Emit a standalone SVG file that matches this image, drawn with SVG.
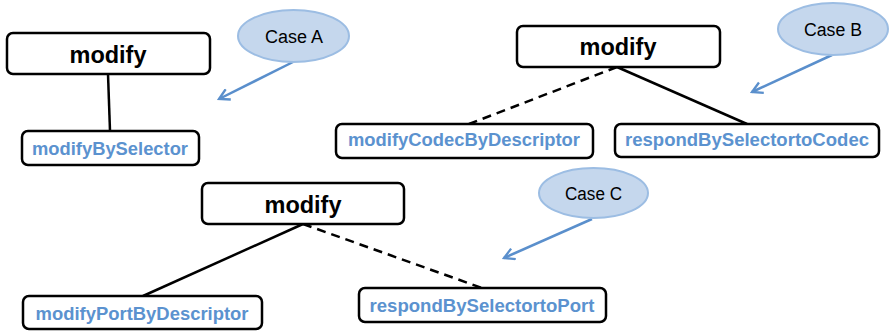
<svg xmlns="http://www.w3.org/2000/svg" width="889" height="331" viewBox="0 0 889 331">
<defs>
<style>
.box{fill:#fff;stroke:#000;stroke-width:2.5}
.root{font-family:"Liberation Sans",Arial,sans-serif;font-weight:bold;font-size:23px;fill:#000;text-anchor:middle}
.leaf{font-family:"Liberation Sans",Arial,sans-serif;font-weight:bold;font-size:18px;fill:#5b92cf;text-anchor:middle}
.case{fill:#c5d7ed;stroke:#9cbde3;stroke-width:2}
.caset{font-family:"Liberation Sans",Arial,sans-serif;font-size:18px;fill:#000;text-anchor:middle}
.solid{stroke:#000;stroke-width:2.5;fill:none}
.dash{stroke:#000;stroke-width:2.5;fill:none;stroke-dasharray:9 6}
.ptr{stroke:#5a8fcc;stroke-width:2.5;fill:none;marker-end:url(#ah)}
</style>
<marker id="ah" viewBox="0 0 12 12" refX="10" refY="6" markerWidth="5.5" markerHeight="5.5" orient="auto" markerUnits="strokeWidth">
<path d="M1,1 L10,6 L1,11" fill="none" stroke="#5a8fcc" stroke-width="2"/>
</marker>
</defs>
<g id="connectors">
<line class="solid" x1="108" y1="74" x2="110" y2="131"/>
<line class="dash" x1="617" y1="67" x2="469" y2="124"/>
<line class="solid" x1="617" y1="67" x2="747" y2="124"/>
<line class="solid" x1="303" y1="224" x2="143" y2="296"/>
<line class="dash" x1="303" y1="224" x2="482" y2="288"/>
<line class="ptr" x1="293" y1="62" x2="219" y2="99"/>
<line class="ptr" x1="832" y1="55" x2="752" y2="92"/>
<line class="ptr" x1="592" y1="219" x2="504" y2="258"/>
</g>
<g id="modifyA">
<rect class="box" x="7" y="33" width="203" height="41" rx="6"/>
<text class="root" x="108" y="63" textLength="77" lengthAdjust="spacingAndGlyphs">modify</text>
</g>
<g id="modifyBySelector">
<rect class="box" x="22" y="131" width="177" height="34" rx="6"/>
<text class="leaf" x="110" y="155" textLength="156" lengthAdjust="spacingAndGlyphs">modifyBySelector</text>
</g>
<g id="caseA">
<ellipse class="case" cx="293.5" cy="36" rx="55.5" ry="26"/>
<text class="caset" x="294" y="43" textLength="58" lengthAdjust="spacingAndGlyphs">Case A</text>
</g>
<g id="modifyB">
<rect class="box" x="517" y="26" width="203" height="41" rx="6"/>
<text class="root" x="618" y="55" textLength="77" lengthAdjust="spacingAndGlyphs">modify</text>
</g>
<g id="modifyCodecByDescriptor">
<rect class="box" x="336" y="124" width="257" height="34" rx="6"/>
<text class="leaf" x="464" y="146" textLength="232" lengthAdjust="spacingAndGlyphs">modifyCodecByDescriptor</text>
</g>
<g id="respondBySelectortoCodec">
<rect class="box" x="615" y="124" width="264" height="33" rx="6"/>
<text class="leaf" x="747" y="146" textLength="244" lengthAdjust="spacingAndGlyphs">respondBySelectortoCodec</text>
</g>
<g id="caseB">
<ellipse class="case" cx="833" cy="29" rx="55" ry="26"/>
<text class="caset" x="833" y="36" textLength="58" lengthAdjust="spacingAndGlyphs">Case B</text>
</g>
<g id="modifyC">
<rect class="box" x="202" y="183" width="202" height="41" rx="6"/>
<text class="root" x="303" y="213" textLength="77" lengthAdjust="spacingAndGlyphs">modify</text>
</g>
<g id="modifyPortByDescriptor">
<rect class="box" x="23" y="296" width="239" height="33" rx="6"/>
<text class="leaf" x="142" y="320" textLength="213" lengthAdjust="spacingAndGlyphs">modifyPortByDescriptor</text>
</g>
<g id="respondBySelectortoPort">
<rect class="box" x="359" y="288" width="247" height="34" rx="6"/>
<text class="leaf" x="482" y="312" textLength="225" lengthAdjust="spacingAndGlyphs">respondBySelectortoPort</text>
</g>
<g id="caseC">
<ellipse class="case" cx="593.5" cy="193" rx="54.5" ry="25"/>
<text class="caset" x="593.5" y="200" textLength="57" lengthAdjust="spacingAndGlyphs">Case C</text>
</g>
</svg>
